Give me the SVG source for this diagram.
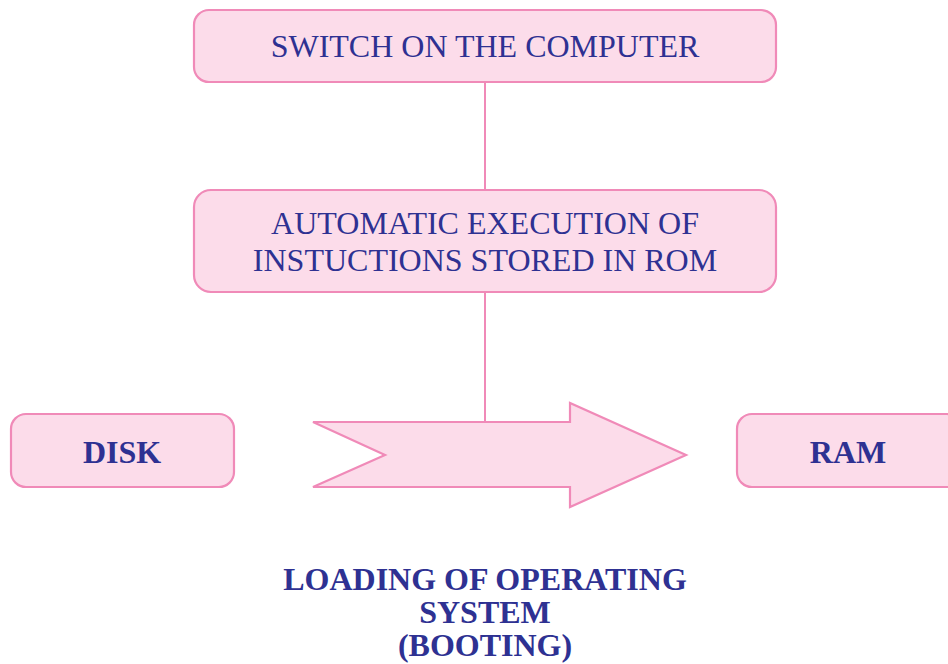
<svg xmlns="http://www.w3.org/2000/svg" width="948" height="664" viewBox="0 0 948 664">
<style>
.box{fill:#fcdcea;stroke:#f08ab8;stroke-width:2.2}
.t{font-family:"Liberation Serif","Times New Roman",serif;fill:#2e3192;text-anchor:middle}
.n{font-size:32px}
.b{font-size:32px;font-weight:bold}
.ln{stroke:#f08ab8;stroke-width:2;fill:none}
</style>
<rect width="948" height="664" fill="#ffffff"/>
<g id="connectors">
<line class="ln" x1="485" y1="82" x2="485" y2="190"/>
<line class="ln" x1="485" y1="292" x2="485" y2="422"/>
</g>
<g id="switch">
<rect class="box" x="194" y="10" width="582" height="72" rx="15"/>
<text class="t n" x="485" y="57">SWITCH ON THE COMPUTER</text>
</g>
<g id="rom">
<rect class="box" x="194" y="190" width="582" height="102" rx="17"/>
<text class="t n" x="485" y="234">AUTOMATIC EXECUTION OF</text>
<text class="t n" x="485" y="271">INSTUCTIONS STORED IN ROM</text>
</g>
<g id="disk">
<rect class="box" x="11" y="414" width="223" height="73" rx="15"/>
<text class="t b" x="122" y="463">DISK</text>
</g>
<g id="ram">
<rect class="box" x="737" y="414" width="225" height="73" rx="15"/>
<text class="t b" x="848" y="463">RAM</text>
</g>
<g id="arrow">
<polygon class="box" points="313,422 570,422 570,403 686,455 570,507 570,487 313,487 385,455"/>
</g>
<g id="caption">
<text class="t b" x="485" y="590">LOADING OF OPERATING</text>
<text class="t b" x="485" y="623">SYSTEM</text>
<text class="t b" x="485" y="656">(BOOTING)</text>
</g>
</svg>
